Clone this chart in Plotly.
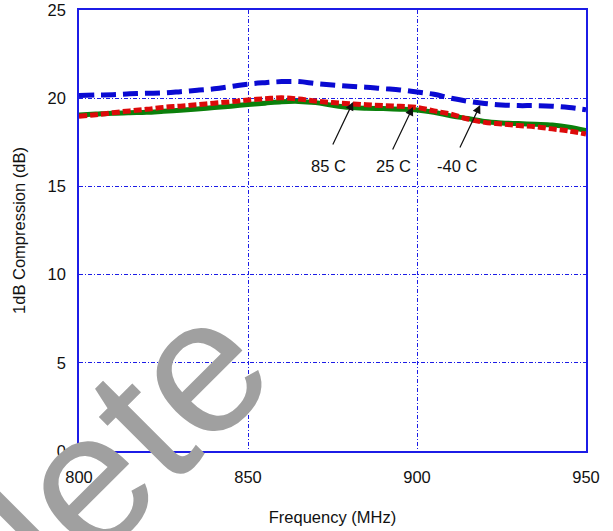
import plotly.graph_objects as go

freq = [800, 805, 810, 815, 820, 825, 830, 835, 840, 845, 850, 855, 860, 865, 870,
        875, 880, 885, 890, 895, 900, 905, 910, 915, 920, 925, 930, 935, 940, 945, 950]

comp_m40 = [20.15, 20.18, 20.20, 20.25, 20.28, 20.30, 20.37, 20.45, 20.53, 20.66, 20.80,
            20.88, 20.94, 20.94, 20.83, 20.75, 20.68, 20.62, 20.54, 20.47, 20.35, 20.22,
            20.00, 19.83, 19.70, 19.62, 19.58, 19.58, 19.55, 19.47, 19.35]

comp_25 = [19.05, 19.10, 19.15, 19.18, 19.20, 19.26, 19.32, 19.39, 19.47, 19.55, 19.64,
           19.72, 19.80, 19.82, 19.75, 19.60, 19.48, 19.43, 19.41, 19.38, 19.33, 19.20,
           19.00, 18.85, 18.68, 18.60, 18.56, 18.52, 18.48, 18.36, 18.16]

comp_85 = [18.98, 19.06, 19.18, 19.28, 19.37, 19.48, 19.55, 19.63, 19.72, 19.80, 19.90,
           19.97, 20.02, 19.95, 19.84, 19.75, 19.69, 19.63, 19.58, 19.54, 19.48, 19.28,
           19.10, 18.82, 18.63, 18.54, 18.45, 18.38, 18.26, 18.14, 17.97]

x_ticks = [800, 850, 900, 950]
y_ticks = [0, 5, 10, 15, 20, 25]

# label text, arrow tip (freq, dB), label position (freq, dB)
labels = ["85 C", "25 C", "-40 C"]
tip_f = [881.1, 898.8, 918.7]
tip_v = [19.79, 19.50, 19.62]
lab_f = [873.7, 892.9, 911.9]
lab_v = [16.16, 16.16, 16.16]

FONT = "Liberation Sans, Arial, Helvetica, sans-serif"
GRID = "#1c1ce6"

fig = go.Figure()
fig.add_trace(go.Scatter(x=freq, y=comp_25, mode="lines", name="25 C",
                         line=dict(color="#0b800b", width=5), line_shape="spline"))
fig.add_trace(go.Scatter(x=freq, y=comp_85, mode="lines", name="85 C",
                         line=dict(color="#dd0a0a", width=5, dash="8px,3px"), line_shape="spline"))
fig.add_trace(go.Scatter(x=freq, y=comp_m40, mode="lines", name="-40 C",
                         line=dict(color="#0a0ad2", width=5, dash="15px,7px"), line_shape="spline"))

for t, tf, tv, lf, lv in zip(labels, tip_f, tip_v, lab_f, lab_v):
    fig.add_annotation(x=tf, y=tv, text="", showarrow=True, ax=-21, ay=44,
                       arrowhead=2, arrowsize=1.4, arrowwidth=1.2, arrowcolor="#111",
                       standoff=0)
    fig.add_annotation(x=lf, y=lv, text=t, showarrow=False,
                       font=dict(family=FONT, size=16.5, color="#111"))

# watermark
fig.add_annotation(xref="paper", yref="paper", x=-0.229, y=-0.344, text="Obsolete",
                   showarrow=False, textangle=-45, xanchor="center", yanchor="middle",
                   font=dict(family=FONT, size=192, color="#a0a0a0"))

axis_common = dict(showgrid=True, gridcolor=GRID, gridwidth=1, griddash="4px,2px,1px,2px",
                   showline=True, mirror=True, linecolor=GRID, linewidth=1.6,
                   zeroline=False, ticks="outside", tickcolor="rgba(0,0,0,0)",
                   tickfont=dict(family=FONT, size=16.5, color="#111"),
                   title_font=dict(family=FONT, size=16.5, color="#111"))

fig.update_xaxes(range=[800, 950], tickvals=x_ticks, ticklen=10,
                 title_text="Frequency (MHz)", title_standoff=27, **axis_common)
fig.update_yaxes(range=[0, 25], tickvals=y_ticks, ticklen=8,
                 title_text="1dB Compression (dB)", title_standoff=18, **axis_common)

fig.update_layout(width=613, height=531, margin=dict(l=79, r=27, t=10, b=80, autoexpand=False),
                  paper_bgcolor="white", plot_bgcolor="white", showlegend=False)

# remove the browser's default 8px body margin so the figure fills the window exactly
fig.write_html("out.html", config={"displayModeBar": False},
               post_script="document.body.style.margin='0px';")
